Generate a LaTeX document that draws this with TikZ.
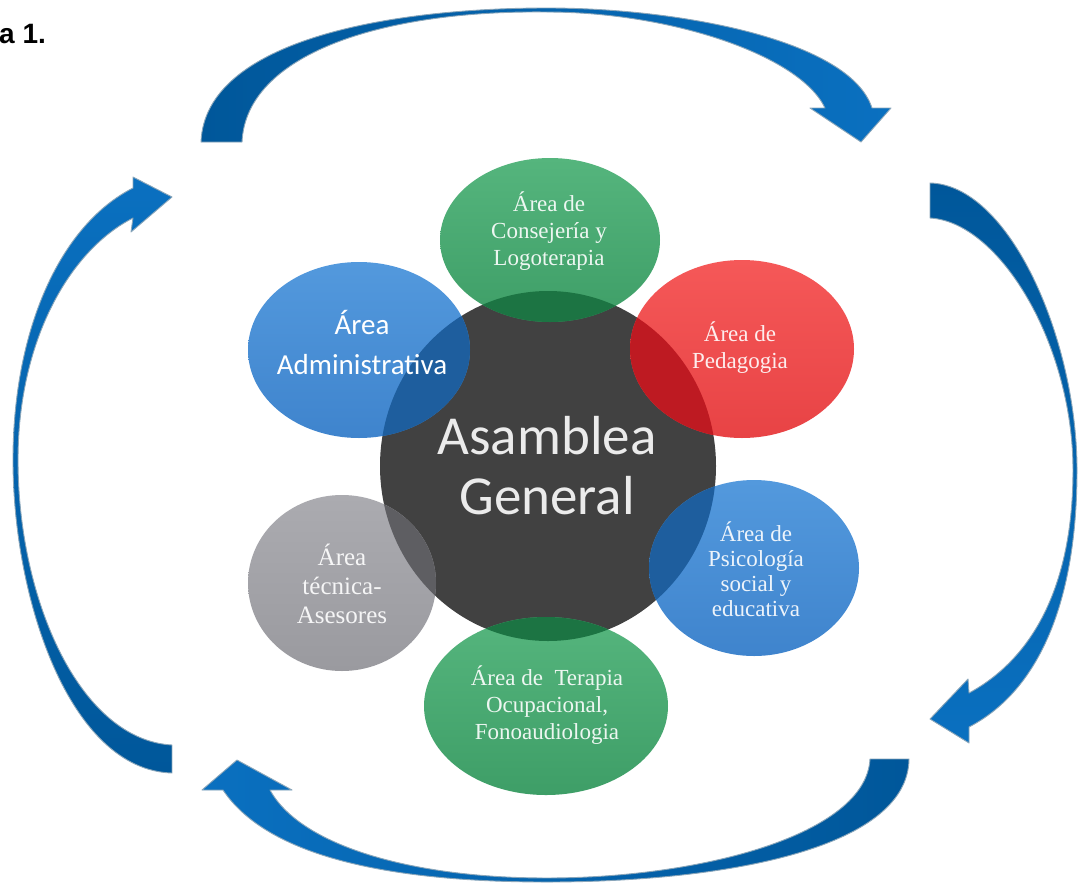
\documentclass[tikz,border=0pt]{standalone}
\usepackage{fontspec}
\setmainfont{Liberation Serif}
\newfontfamily\carlito{Carlito}
\newfontfamily\arialf{Liberation Sans}
\definecolor{arrD}{HTML}{00579A}
\definecolor{arrL}{HTML}{0A70C0}
\definecolor{arrEdge}{HTML}{8AA6BA}
\definecolor{darkC}{HTML}{414141}
\definecolor{gTa}{HTML}{55B57D}
\definecolor{gTb}{HTML}{3E9E67}
\definecolor{gO}{HTML}{1C7443}
\definecolor{bAa}{HTML}{5399DD}
\definecolor{bAb}{HTML}{3F84CD}
\definecolor{bO}{HTML}{1E5E9E}
\definecolor{rA}{HTML}{F55858}
\definecolor{rB}{HTML}{E84345}
\definecolor{rO}{HTML}{BE1A22}
\definecolor{grA}{HTML}{ABABB0}
\definecolor{grB}{HTML}{9A9A9F}
\definecolor{grO}{HTML}{5E5E62}
\begin{document}
\begin{tikzpicture}[x=1pt,y=-1pt,
  arrowbody/.style={draw=arrEdge, line width=0.9pt, line join=round},
  serif/.style={align=center, text=white, text opacity=0.9, font=\fontsize{23}{27}\selectfont, inner sep=0pt},
  serifbig/.style={align=center, text=white, text opacity=0.9, font=\fontsize{25}{29}\selectfont, inner sep=0pt},
  sat/.style={draw=none}
]
\useasboundingbox (0,0) rectangle (1079,884);
\fill[white] (0,0) rectangle (1079,884);

% label
\node[anchor=base west, inner sep=0pt, font=\arialf\bfseries\fontsize{28}{30}\selectfont] (fig) at (-1,43) {a 1.};

% top arrow
\path[arrowbody, left color=arrD, right color=arrL]
 (201,142) .. controls (205,40) and (390,8) .. (547,8)
 .. controls (680,8) and (850,40) .. (872,108)
 -- (891,108) -- (861,142) -- (810,108) -- (825,108)
 .. controls (800,55) and (670,12) .. (547,12)
 .. controls (380,10) and (246,55) .. (242,142) -- cycle;

% right arrow
\path[arrowbody, top color=arrD, bottom color=arrL]
 (930,183) .. controls (1010,185) and (1077,340) .. (1077,470)
 .. controls (1077,600) and (1040,690) .. (969,727)
 -- (969,743) -- (930,719) -- (968,679) -- (969,693)
 .. controls (1030,660) and (1073,590) .. (1073,470)
 .. controls (1073,345) and (1000,222) .. (930,218) -- cycle;

% bottom arrow
\path[arrowbody, right color=arrD, left color=arrL]
 (909,759) .. controls (908,850) and (720,882) .. (547,882)
 .. controls (400,882) and (270,860) .. (223,790)
 -- (202,790) -- (237,760) -- (292,790) -- (270,790)
 .. controls (300,845) and (410,878) .. (547,878)
 .. controls (700,878) and (866,835) .. (870,759) -- cycle;

% left arrow
\path[arrowbody, bottom color=arrD, top color=arrL]
 (172,773) .. controls (70,770) and (13,600) .. (13,460)
 .. controls (13,330) and (60,225) .. (133,188)
 -- (133,177) -- (172,197) -- (131,232) -- (133,218)
 .. controls (70,250) and (18,340) .. (18,460)
 .. controls (18,600) and (80,740) .. (172,745) -- cycle;

% central circle
\fill[darkC] (548,466) ellipse [x radius=168, y radius=175];

% satellites
\path[sat, top color=gTa, bottom color=gTb] (550,240) ellipse [x radius=110, y radius=82];
\path[sat, top color=bAa, bottom color=bAb] (359,350) ellipse [x radius=111, y radius=88];
\path[sat, top color=rA, bottom color=rB] (742,349) ellipse [x radius=112, y radius=89];
\path[sat, top color=bAa, bottom color=bAb] (754,568) ellipse [x radius=105, y radius=88];
\path[sat, top color=grA, bottom color=grB] (342,583) ellipse [x radius=94, y radius=88];
\path[sat, top color=gTa, bottom color=gTb] (546,706) ellipse [x radius=122, y radius=89];

% overlaps
\begin{scope}
\clip (548,466) ellipse [x radius=168, y radius=175];
\fill[gO] (550,240) ellipse [x radius=110, y radius=82];
\fill[bO] (359,350) ellipse [x radius=111, y radius=88];
\fill[rO] (742,349) ellipse [x radius=112, y radius=89];
\fill[bO] (754,568) ellipse [x radius=105, y radius=88];
\fill[grO] (342,583) ellipse [x radius=94, y radius=88];
\fill[gO] (546,706) ellipse [x radius=122, y radius=89];
\end{scope}

% texts
\node[serif] (cons) at (549,231) {Área de\\Consejería y\\Logoterapia};
\node[serif] (ped) at (740,348) {Área de\\Pedagogia};
\node[align=center, text=white, inner sep=0pt, font=\carlito\fontsize{29}{40}\selectfont] (adm) at (362,342) {Área\\Administrativa};
\node[align=center, text=white!92!black, inner sep=0pt, font=\carlito\fontsize{55}{60}\selectfont] (asam) at (547,466) {Asamblea\\General};
\node[serifbig] (tec) at (342,584) {Área\\técnica-\\Asesores};
\node[align=center, text=white, text opacity=0.9, font=\fontsize{23}{25}\selectfont, inner sep=0pt] (psi) at (756,569) {Área de\\Psicología\\social y\\educativa};
\node[serif] (ter) at (547,705) {Área de\ \ Terapia\\Ocupacional,\\Fonoaudiologia};
\end{tikzpicture}
\end{document}
